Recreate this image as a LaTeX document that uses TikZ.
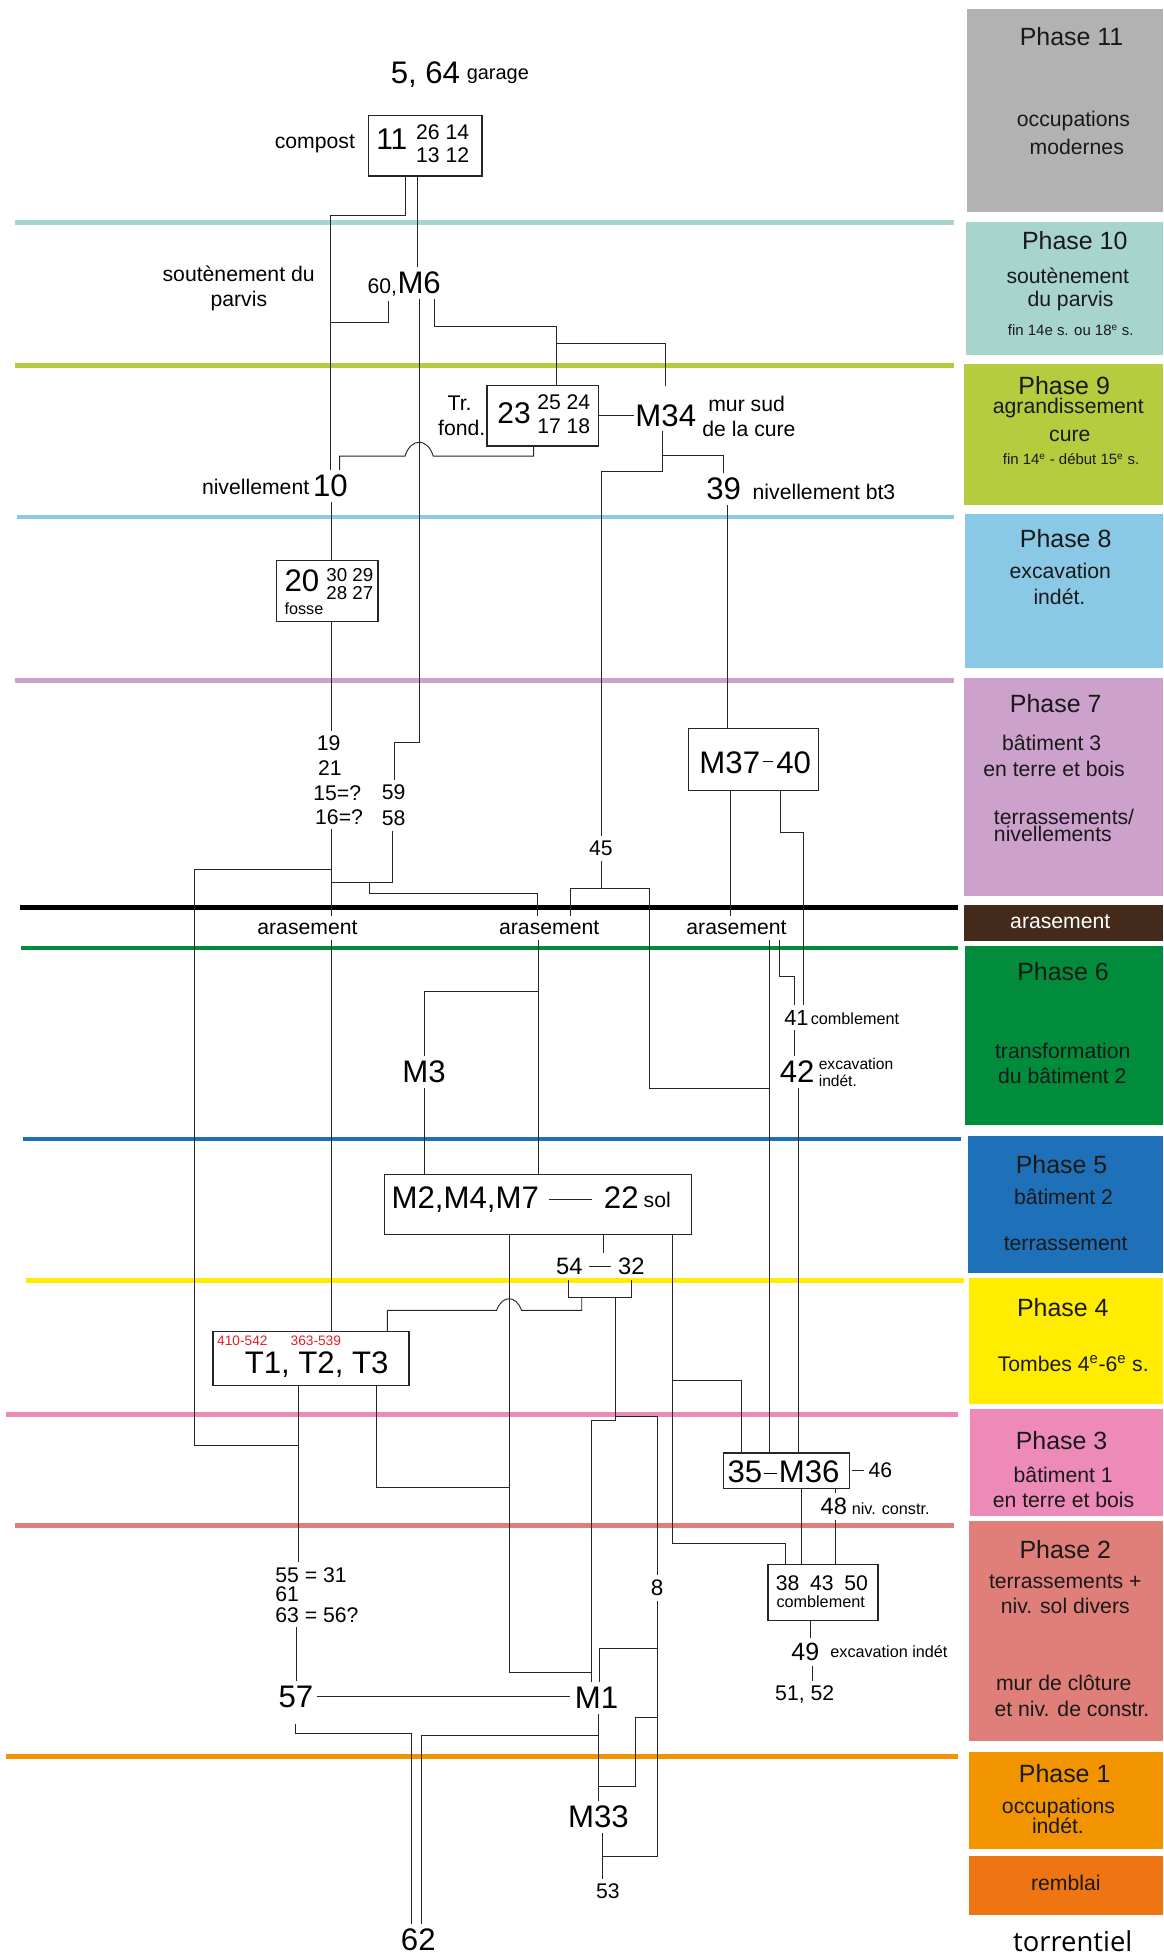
\documentclass[tikz,border=0pt]{standalone}
\usepackage{fontspec}
\setmainfont{Liberation Sans}
\newfontfamily\torrfont{Open Sans}
\newcommand\fsz[1]{\fontsize{#1}{#1}\selectfont}
\definecolor{c11}{RGB}{178,178,178}
\definecolor{c10}{RGB}{167,213,205}
\definecolor{c9}{RGB}{180,204,62}
\definecolor{c8}{RGB}{137,201,230}
\definecolor{c7}{RGB}{204,161,204}
\definecolor{caras}{RGB}{68,42,27}
\definecolor{c6}{RGB}{0,140,58}
\definecolor{c5}{RGB}{30,112,184}
\definecolor{c4}{RGB}{255,236,0}
\definecolor{c3}{RGB}{238,138,184}
\definecolor{c2}{RGB}{224,127,122}
\definecolor{c1}{RGB}{242,148,0}
\definecolor{crem}{RGB}{238,117,18}
\definecolor{cred}{RGB}{228,30,38}
\tikzset{
  conn/.style={draw=black!85, line width=0.75pt},
  bx/.style={draw=black!85, line width=1.1pt, inner sep=0pt, outer sep=0pt, fill=white},
  lbl/.style={inner xsep=0pt, inner ysep=4pt, outer sep=0pt, anchor=base, text=black},
  tight/.style={inner ysep=0pt},
  big/.style={font=\fsz{25}},
  med/.style={font=\fsz{17}},
  sml/.style={font=\fsz{13}},
  sepline/.style={line width=3.8pt},
  ptitle/.style={font=\fsz{20}, inner sep=0pt, text=black!90},
  pdesc/.style={font=\fsz{17}, inner sep=0pt, text=black!90},
  pdate/.style={font=\fsz{12}, inner sep=0pt, text=black!90},
}
\begin{document}
\begin{tikzpicture}[x=1pt,y=-1pt]
\fill[white] (0,0) rectangle (933,1568);
\useasboundingbox (0,0) rectangle (933,1568);

% separator lines
\draw[sepline, c10] (12.3,178.3) -- (765.3,178.3);
\draw[sepline, c9] (11.8,293.3) -- (765,293.3);
\draw[sepline, c8] (13.3,414.6) -- (765,414.6);
\draw[sepline, c7] (12.3,545.8) -- (765,545.8);
\draw[sepline, black, line width=4.2pt] (16.2,727.6) -- (768,727.6);
\draw[sepline, c6] (16.7,760.3) -- (768,760.3);
\draw[sepline, c5] (18.7,913.5) -- (770.7,913.5);
\draw[sepline, c4] (20.6,1027) -- (772.8,1027);
\draw[sepline, c3] (4.9,1134.4) -- (768,1134.4);
\draw[sepline, c2] (12.3,1223.7) -- (765,1223.7);
\draw[sepline, c1] (4.9,1408.5) -- (768,1408.5);

% phase boxes
\fill[c11] (775.5,7.5) rectangle (933,170.3);
\fill[c10] (775,178) rectangle (933,285);
\fill[c9] (773.4,291.6) rectangle (933,405);
\fill[c8] (774.2,412.4) rectangle (933,536);
\fill[c7] (773.4,543.4) rectangle (933,719);
\fill[caras] (773.4,725.5) rectangle (933,754.7);
\fill[c6] (774.2,758.8) rectangle (933,902);
\fill[c5] (776,911.3) rectangle (933,1020.8);
\fill[c4] (776.8,1025.4) rectangle (933,1126.2);
\fill[c3] (777.6,1129.8) rectangle (933,1215.7);
\fill[c2] (776.8,1219.8) rectangle (933,1396.2);
\fill[c1] (776.8,1405) rectangle (933,1483);
\fill[crem] (776.8,1488.3) rectangle (933,1536);

% phase texts
\node[ptitle] (p11t) at (859.4,29) {Phase 11};
\node[pdesc] (p11a) at (861,97.2) {occupations};
\node[pdesc] (p11b) at (863.6,117.7) {modernes};
\node[ptitle] (p10t) at (862,192.9) {Phase 10};
\node[pdesc] (p10a) at (856.4,221.5) {soutènement};
\node[pdesc] (p10b) at (858.6,241.5) {du parvis};
\node[pdate] (p10c) at (858.8,265) {fin 14e s. ou 18\textsuperscript{e} s.};
\node[ptitle] (p9t) at (853.5,309.5) {Phase 9};
\node[pdesc] (p9a) at (856.8,327.5) {agrandissement};
\node[pdesc] (p9b) at (858,349.5) {cure};
\node[pdate] (p9c) at (859,368.4) {fin 14\textsuperscript{e} - début 15\textsuperscript{e} s.};
\node[ptitle] (p8t) at (854.7,432.3) {Phase 8};
\node[pdesc] (p8a) at (850.4,458) {excavation};
\node[pdesc] (p8b) at (849.7,478.4) {indét.};
\node[ptitle] (p7t) at (846.7,564.3) {Phase 7};
\node[pdesc] (p7a) at (843.5,596) {bâtiment 3};
\node[pdesc] (p7b) at (845.4,616.5) {en terre et bois};
\node[pdesc,anchor=west] (p7c) at (797,655) {terrassements/};
\node[pdesc,anchor=west] (p7d) at (797,669.2) {nivellements};
\node[pdesc,text=white] (arasT) at (850.4,739.3) {arasement};
\node[ptitle] (p6t) at (852.6,779.5) {Phase 6};
\node[pdesc] (p6a) at (852.4,842.9) {transformation};
\node[pdesc] (p6b) at (852,862.7) {du bâtiment 2};
\node[ptitle] (p5t) at (851.4,934.4) {Phase 5};
\node[pdesc] (p5a) at (853,960) {bâtiment 2};
\node[pdesc] (p5b) at (854.7,997.6) {terrassement};
\node[ptitle] (p4t) at (852.4,1049) {Phase 4};
\node[pdesc] (p4a) at (860.8,1093.8) {Tombes 4\textsuperscript{e}-6\textsuperscript{e} s.};
\node[ptitle] (p3t) at (851.4,1155.5) {Phase 3};
\node[pdesc] (p3a) at (852.7,1182.8) {bâtiment 1};
\node[pdesc] (p3b) at (853,1203) {en terre et bois};
\node[ptitle] (p2t) at (854.4,1242.9) {Phase 2};
\node[pdesc] (p2a) at (854.4,1268.7) {terrassements +};
\node[pdesc] (p2b) at (854.4,1288.2) {niv. sol divers};
\node[pdesc] (p2c) at (853.2,1349.4) {mur de clôture};
\node[pdesc] (p2d) at (859.8,1370.5) {et niv. de constr.};
\node[ptitle] (p1t) at (853.9,1422.3) {Phase 1};
\node[pdesc] (p1a) at (849,1449.9) {occupations};
\node[pdesc] (p1b) at (848.5,1464.3) {indét.};
\node[pdesc] (remb) at (854.8,1510.3) {remblai};
\node[font={\torrfont\fsz{22}},inner sep=0pt] (torr) at (860.4,1556.8) {torrentiel};

% boxes
\node[bx,minimum width=91.2pt,minimum height=48.4pt] (b11) at (341.1,117) {};
\node[bx,minimum width=89.3pt,minimum height=48.4pt] (b23) at (435.35,333.6) {};
\node[bx,minimum width=81.5pt,minimum height=49.4pt] (b20) at (262.55,474) {};
\node[bx,minimum width=104.3pt,minimum height=49.5pt] (b37) at (604.35,609.05) {};
\node[bx,minimum width=246.4pt,minimum height=48.2pt] (b2) at (431.4,966.2) {};
\node[bx,minimum width=157.1pt,minimum height=43.6pt] (bT) at (249.35,1089.6) {};
\node[bx,minimum width=101.1pt,minimum height=28.6pt] (b36) at (630.85,1179.7) {};
\node[bx,minimum width=88.3pt,minimum height=44.9pt] (b38) at (660.15,1277.15) {};

% labels
\node[lbl,big,anchor=base west] (n564) at (313.4,66.9) {5, 64};
\node[lbl,font=\fsz{16},anchor=base west] (garage) at (374.4,63.6) {garage};
\node[lbl,font=\fsz{24},anchor=base west] (n11) at (301.8,120.3) {11};
\node[lbl,tight,med,anchor=base west] (n2614) at (333.7,111.8) {26 14};
\node[lbl,tight,med,anchor=base west] (n1312) at (333.7,130.3) {13 12};
\node[lbl,med,anchor=base east] (compost) at (284.7,119) {compost};

\node[lbl,big] (m6) at (336.2,235.3) {M6};
\node[lbl,med,anchor=base east] (n60) at (318.5,235.3) {60,};
\node[lbl,tight,med] (sout1) at (191.4,226) {soutènement du};
\node[lbl,tight,med] (sout2) at (191.6,245.5) {parvis};

\node[lbl,font=\fsz{24},anchor=base west] (n23) at (399,339.6) {23};
\node[lbl,tight,med,anchor=base west] (n2524) at (430.9,328.3) {25 24};
\node[lbl,tight,med,anchor=base west] (n1718) at (430.9,347.6) {17 18};
\node[lbl,tight,med] (tr) at (368.6,329.4) {Tr.};
\node[lbl,tight,med] (fond) at (370.3,349) {fond.};
\node[lbl,big] (m34) at (534,341.7) {M34};
\node[lbl,tight,med] (mur1) at (598.8,330.2) {mur sud};
\node[lbl,tight,med] (mur2) at (600.7,349.7) {de la cure};
\node[lbl,big] (n10) at (265,398.4) {10};
\node[lbl,med,anchor=base east] (niv10) at (248,397) {nivellement};
\node[lbl,big] (n39) at (580.4,401) {39};
\node[lbl,med,anchor=base west] (niv39) at (603.7,401) {nivellement bt3};

\node[lbl,font=\fsz{25},anchor=base west] (n20) at (228.2,474.7) {20};
\node[lbl,tight,font=\fsz{15},anchor=base west] (n3029) at (261.8,466) {30 29};
\node[lbl,tight,font=\fsz{15},anchor=base west] (n2827) at (261.8,481.2) {28 27};
\node[lbl,tight,sml,anchor=base west] (fosse) at (228.2,492.8) {fosse};

\node[lbl,med,anchor=base west] (n19) at (254.2,602) {19};
\node[lbl,tight,med,anchor=base west] (n21) at (255.2,621.7) {21};
\node[lbl,tight,med,anchor=base west] (n15) at (251.3,642.4) {15=?};
\node[lbl,med,anchor=base west] (n16) at (252.8,661.1) {16=?};
\node[lbl,med] (n59) at (315.8,641.1) {59};
\node[lbl,med] (n58) at (315.8,662) {58};
\node[lbl,med] (n45) at (482,686) {45};

\node[lbl,big,anchor=base west] (m3740) at (561,620.4) {M37\kern2pt\rule[9.2pt]{8pt}{0.8pt}\kern3pt 40};

\node[lbl,med] (a1) at (246.6,749.8) {arasement};
\node[lbl,med] (a2) at (440.5,749.8) {arasement};
\node[lbl,med] (a3) at (590.7,749.8) {arasement};

\node[lbl,font=\fsz{17.5}] (n41) at (638.8,822.3) {41};
\node[lbl,tight,sml,anchor=base west] (comb41) at (650.3,821.5) {comblement};
\node[lbl,big] (n42) at (639.3,868.6) {42};
\node[lbl,tight,font=\fsz{12.5},anchor=base west] (exc42) at (656.7,857.6) {excavation};
\node[lbl,tight,font=\fsz{12.5},anchor=base west] (ind42) at (656.7,871.2) {indét.};

\node[lbl,big] (m3) at (340.1,868.6) {M3};

\node[lbl,big,anchor=base west] (m247) at (314.1,969.4) {M2,M4,M7};
\node[lbl,big,anchor=base west] (n22) at (484.4,969.4) {22};
\node[lbl,med,anchor=base west] (sol) at (516.3,968.6) {sol};

\node[lbl,font=\fsz{19}] (n54) at (456.6,1022.1) {54};
\node[lbl,font=\fsz{19}] (n32) at (506.3,1022.1) {32};

\node[lbl,big,anchor=base west] (tt) at (196.3,1101.7) {T1, T2, T3};
\node[lbl,tight,font=\fsz{11},text=cred,anchor=base west] (r1) at (174.2,1079.5) {410-542};
\node[lbl,tight,font=\fsz{11},text=cred,anchor=base west] (r2) at (233.1,1079.5) {363-539};

\node[lbl,big,anchor=base west] (m36) at (583.5,1188.7) {35\kern1.2pt\rule[6.7pt]{11pt}{0.8pt}\kern1.2pt M36};
\node[lbl,med,anchor=base west] (n46) at (696.6,1185.2) {46};
\node[lbl,font=\fsz{19}] (n48) at (668.7,1214.6) {48};
\node[lbl,tight,sml,anchor=base west] (niv48) at (683.2,1214.6) {niv. constr.};

\node[lbl,med,anchor=base west] (n55) at (220.9,1268.9) {55 = 31};
\node[lbl,tight,med,anchor=base west] (n61) at (220.9,1284.4) {61};
\node[lbl,med,anchor=base west] (n63) at (220.9,1301) {63 = 56?};
\node[lbl,font=\fsz{18}] (n8) at (527.1,1279.9) {8};

\node[lbl,tight,med] (n384350) at (659.2,1275.6) {38\hspace{8.5pt}43\hspace{8.5pt}50};
\node[lbl,tight,sml] (comb38) at (658.2,1289.1) {comblement};
\node[lbl,font=\fsz{20}] (n49) at (645.9,1331.7) {49};
\node[lbl,tight,sml,anchor=base west] (exc49) at (666,1329.6) {excavation indét};
\node[lbl,med] (n5152) at (645.4,1364) {51, 52};

\node[lbl,big] (n57) at (237.3,1369.2) {57};
\node[lbl,big] (m1) at (478.5,1370.5) {M1};
\node[lbl,big] (m33) at (480,1466.1) {M33};
\node[lbl,med] (n53) at (487.6,1522.9) {53};
\node[lbl,big] (n62) at (335.5,1564.4) {62};

% connectors
\draw[conn] (324.9,0 |- b11.south) -- (324.9,172.5) -- (265,172.5) -- (n10.north);
\draw[conn] (334.7,0 |- b11.south) -- (334.7,0 |- m6.north);
\draw[conn] (311.7,0 |- n60.south) -- (311.7,258.8) -- (265,258.8);
\draw[conn] (m6.south) -- (336.2,595.5) -- (316.6,595.5) -- (316.6,0 |- n59.north);
\draw[conn] (348.5,0 |- m6.south) -- (348.5,261.8) -- (446,261.8) -- (446,0 |- b23.north);
\draw[conn] (446,275.4) -- (534,275.4) -- ([yshift=11pt]m34.north);
\draw[conn] (b23.east) -- (508.5,0 |- b23.east);
\draw[conn] (428,0 |- b23.south) -- (428,365.8) -- (347.5,365.8) .. controls (343,351) and (329.4,351) .. (324.9,365.8) -- (272.4,365.8) -- (272.4,0 |- n10.north);
\draw[conn] (531,0 |- m34.south) -- (531,365) -- (580.4,365) -- (n39.north);
\draw[conn] (531,365) -- (531,378.3) -- (482,378.3) -- (n45.north);
\draw[conn] (266,0 |- n10.south) -- (266,0 |- b20.north);
\draw[conn] (583.1,0 |- n39.south) -- (583.1,0 |- b37.north);
\draw[conn] (266,0 |- b20.south) -- (266,0 |- n19.north);
\draw[conn] (266,0 |- n16.south) -- (266,0 |- a1.north);
\draw[conn] (266,697.2) -- (156.1,697.2) -- (156.1,1159.5) -- (239,1159.5);
\draw[conn] (315.1,0 |- n58.south) -- (315.1,707.8) -- (266,707.8);
\draw[conn] (296,707.8) -- (296,716.7) -- (430.9,716.7) -- (430.9,0 |- a2.north);
\draw[conn] (n45.south) -- (482,712.6);
\draw[conn] (457.4,0 |- a2.north) -- (457.4,712.6) -- (521.2,712.6) -- (521.2,872.6) -- (617.4,872.6);
\draw[conn] (585.6,0 |- b37.south) -- (585.6,0 |- a3.north);
\draw[conn] (626.3,0 |- b37.south) -- (626.3,668) -- (644.4,668) -- (644.4,0 |- n41.north);
\draw[conn] (266,0 |- a1.south) -- (266,0 |- bT.north);
\draw[conn] (431.9,0 |- a2.south) -- (431.9,0 |- b2.north);
\draw[conn] (431.9,794.8) -- (340.6,794.8) -- (340.6,0 |- m3.north);
\draw[conn] (624.8,0 |- a3.south) -- (624.8,783.5) -- (637.1,783.5) -- (637.1,0 |- n41.north);
\draw[conn] (617.4,0 |- a3.south) -- (617.4,0 |- b36.north);
\draw[conn] (637.1,0 |- n41.south) -- (637.1,0 |- n42.north);
\draw[conn] (640.5,0 |- n42.south) -- (640.5,0 |- b36.north);
\draw[conn] (340.6,0 |- m3.south) -- (340.6,0 |- b2.north);
\draw[conn] (440.7,0 |- m247.east) -- (474.6,0 |- m247.east);
\draw[conn] (408.3,0 |- b2.south) -- (408.3,1341.5) -- (474.1,1341.5);
\draw[conn] (484,0 |- b2.south) -- (484,0 |- n54.north);
\draw[conn] (472.5,0 |- n54.east) -- (489.9,0 |- n54.east);
\draw[conn] (455.9,0 |- n54.south) -- (455.9,1040.3) -- (506.8,1040.3) -- (506.8,0 |- n32.south);
\draw[conn] (466.6,1040.3) -- (466.6,1051) -- (418.3,1051) .. controls (414,1038.5) and (402.6,1038.5) .. (398.3,1051) -- (310.7,1051) -- (310.7,0 |- bT.north);
\draw[conn] (494,1040.3) -- (494,1139) -- (474.1,1139) -- (474.1,0 |- m1.north);
\draw[conn] (494,1136) -- (527,1136) -- (527,0 |- n8.north);
\draw[conn] (239,0 |- bT.south) -- (239,0 |- n55.north);
\draw[conn] (301.8,0 |- bT.south) -- (301.8,1193.2) -- (408.3,1193.2);
\draw[conn] (539.4,0 |- b2.south) -- (539.4,1237.6) -- (630.2,1237.6) -- (630.2,0 |- b38.north);
\draw[conn] (539.4,1107.1) -- (594.8,1107.1) -- (594.8,0 |- b36.north);
\draw[conn] (643,0 |- b36.south) -- (643,0 |- b38.north);
\draw[conn] (670,0 |- b36.south) -- (670,0 |- n48.north);
\draw[conn] (670,0 |- n48.south) -- (670,0 |- b38.north);
\draw[conn] (683.3,0 |- b36.east) -- (692.6,0 |- b36.east);
\draw[conn] (650.3,0 |- b38.south) -- (650.3,0 |- n49.north);
\draw[conn] (651.3,0 |- n49.south) -- (651.3,0 |- n5152.north);
\draw[conn] (238,0 |- n63.south) -- (238,0 |- n57.north);
\draw[conn] (254.2,0 |- n57.east) -- (457.4,0 |- n57.east);
\draw[conn] ([yshift=-9pt]n57.south) -- (237.3,1390.7) -- (330.3,1390.7) -- (330.3,0 |- n62.north);
\draw[conn] (480,0 |- m1.south) -- (480,0 |- m33.north);
\draw[conn] (480,1391.8) -- (337.7,1391.8) -- (337.7,0 |- n62.north);
\draw[conn] (527,0 |- n8.south) -- (527,1489) -- (483.4,1489);
\draw[conn] (527,1321.8) -- (481,1321.8) -- (481,0 |- m1.north);
\draw[conn] (527,1377.2) -- (509.4,1377.2) -- (509.4,1432.8) -- (480,1432.8);
\draw[conn] (483.4,0 |- m33.south) -- (483.4,0 |- n53.north);
\end{tikzpicture}
\end{document}
